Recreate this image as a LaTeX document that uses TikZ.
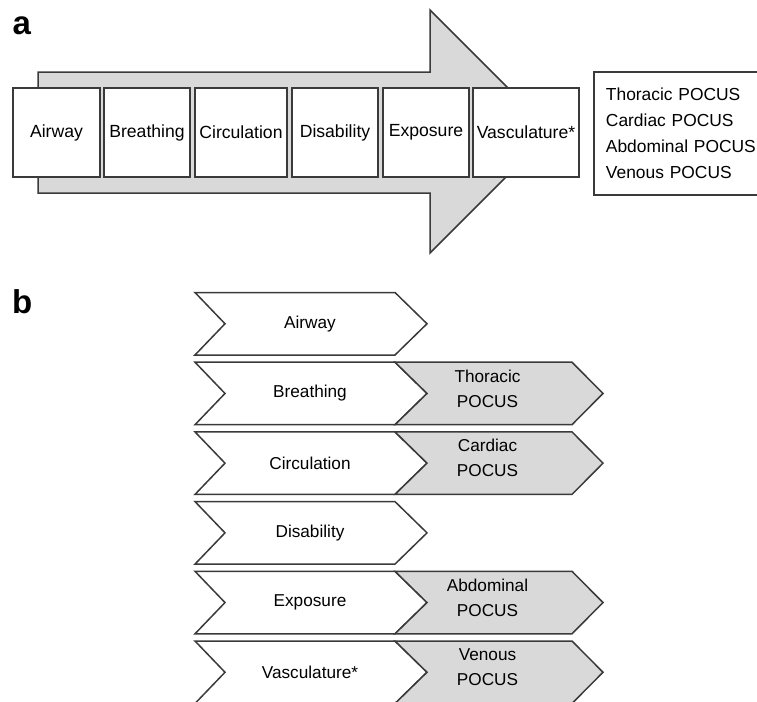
\documentclass[tikz,border=0pt]{standalone}
\usepackage{fontspec}
\setmainfont{Liberation Sans}
\definecolor{ln}{HTML}{3A3A3A}
\definecolor{fl}{HTML}{D9D9D9}
\begin{document}
\begin{tikzpicture}[x=1pt,y=-1pt,
  every node/.style={inner sep=0pt, text=black},
  outl/.style={draw=ln, line width=1.5pt, line join=miter},
  abox/.style={outl, fill=white, minimum height=89pt, font=\fontsize{17.6}{20}\selectfont},
  lab/.style={anchor=base west, font=\fontsize{33}{33}\selectfont\bfseries},
  btext/.style={font=\fontsize{17.2}{20}\selectfont},
  gtext/.style={align=center, font=\fontsize{17.2}{25}\selectfont},
  wchev/.pic={\draw[outl, fill=white] (0,0) -- (200,0) -- (232,31.25) -- (200,62.5) -- (0,62.5) -- (30,31.25) -- cycle;},
  gchev/.pic={\draw[outl, fill=fl] (0,0) -- (177,0) -- (208,31.25) -- (177,62.5) -- (0,62.5) -- (32,31.25) -- cycle;}
]
\clip (0,0) rectangle (757,701);
% ---------- panel a ----------
\node[lab] (la) at (12.5,35) {a};
\draw[outl, fill=fl] (38,72) -- (430,72) -- (430,10) -- (551.5,131.5) -- (430,253) -- (430,193) -- (38,193) -- cycle;
\node[abox, minimum width=87pt] (airway) at (56.5,132.5) {Airway};
\node[abox, minimum width=86pt] (breathing) at (147,132.5) {Breathing};
\node[abox, minimum width=92pt] (circulation) at (241,132.5) {Circulation};
\node[abox, minimum width=86pt] (disability) at (335,132.5) {Disability};
\node[abox, minimum width=86pt] (exposure) at (426,132.5) {Exposure};
\node[abox, minimum width=106pt] (vasculature) at (526,132.5) {Vasculature*};
\node[outl, fill=white, anchor=north west, minimum height=123pt, text width=165pt,
      inner xsep=12.2pt, align=left, font=\fontsize{17.4}{25.8}\selectfont]
      (pocuslist) at (593,71) {Thoracic POCUS\\Cardiac POCUS\\Abdominal POCUS\\Venous POCUS};
% ---------- panel b ----------
\node[lab] (lb) at (12,313) {b};
% row 1
\pic at (195,292.5) {wchev};
\node[btext] (bairway) at (310,323.75) {Airway};
% row 2
\pic at (195,362.2) {wchev};
\pic at (395,362.2) {gchev};
\node[btext] (bbreathing) at (310,393.45) {Breathing};
\node[gtext] (bthoracic) at (487.5,388.5) {Thoracic\\POCUS};
% row 3
\pic at (195,431.9) {wchev};
\pic at (395,431.9) {gchev};
\node[btext] (bcirculation) at (310,463.15) {Circulation};
\node[gtext] (bcardiac) at (487.5,458.2) {Cardiac\\POCUS};
% row 4
\pic at (195,501.6) {wchev};
\node[btext] (bdisability) at (310,532.85) {Disability};
% row 5
\pic at (195,571.3) {wchev};
\pic at (395,571.3) {gchev};
\node[btext] (bexposure) at (310,602.55) {Exposure};
\node[gtext] (babdominal) at (487.5,597.6) {Abdominal\\POCUS};
% row 6
\pic at (195,641.0) {wchev};
\pic at (395,641.0) {gchev};
\node[btext] (bvasculature) at (310,672.25) {Vasculature*};
\node[gtext] (bvenous) at (487.5,667.3) {Venous\\POCUS};
\end{tikzpicture}
\end{document}
